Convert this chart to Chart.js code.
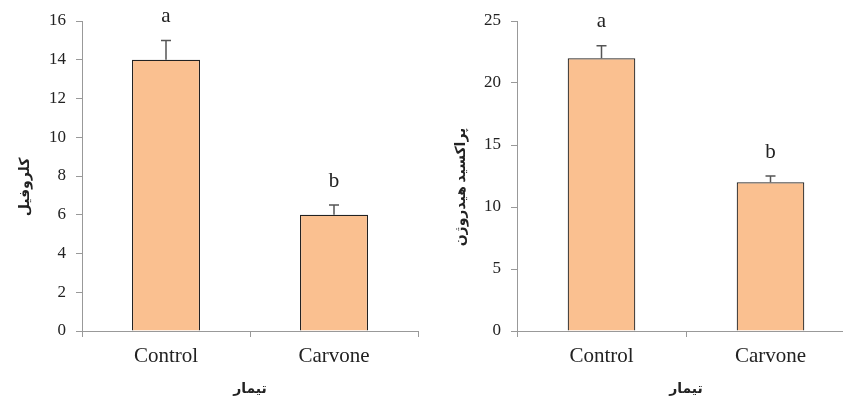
<!DOCTYPE html>
<html>
<head>
<meta charset="utf-8">
<script src="https://cdn.jsdelivr.net/npm/chart.js@4"></script>
<style>
  body { margin: 0; background: #fff; overflow: hidden; }
  .box { position: absolute; top: 0; height: 403px; }
</style>
</head>
<body>
<div class="box" style="left:0;width:421px"><canvas id="chartLeft"></canvas></div>
<div class="box" style="left:421px;width:434px"><canvas id="chartRight"></canvas></div>
<script>
const categories = ['Control', 'Carvone'];
const xTitle = 'تیمار';

// chlorophyll
const chlTitle = 'کلروفیل';
const chlValues = [14, 6];
const chlErrors = [1, 0.5];
const chlLetters = ['a', 'b'];
const chlTicks = { max: 16, step: 2 };

// hydrogen peroxide
const h2o2Title = 'پراکسید هیدروژن';
const h2o2Values = [22, 12];
const h2o2Errors = [1, 0.5];
const h2o2Letters = ['a', 'b'];
const h2o2Ticks = { max: 25, step: 5 };

const serif = '"Liberation Serif", "DejaVu Sans", serif';

const errorBarPlugin = {
  id: 'errorBars',
  afterDatasetsDraw(chart, args, opts) {
    const { ctx, scales: { y }, chartArea } = chart;
    const meta = chart.getDatasetMeta(0);
    ctx.save();
    meta.data.forEach((bar, i) => {
      const top = y.getPixelForValue(opts.values[i] + opts.errors[i]);
      const base = y.getPixelForValue(opts.values[i]);
      ctx.strokeStyle = '#555';
      ctx.lineWidth = 1.5;
      ctx.beginPath();
      ctx.moveTo(bar.x, base);
      ctx.lineTo(bar.x, top);
      ctx.moveTo(bar.x - 5, top);
      ctx.lineTo(bar.x + 5, top);
      ctx.stroke();
      ctx.fillStyle = '#222';
      ctx.font = '21px ' + serif;
      ctx.textAlign = 'center';
      ctx.textBaseline = 'middle';
      ctx.fillText(opts.letters[i], bar.x, top - 24);
    });
    // y title, sits a little below the middle of the axis
    ctx.translate(opts.titleX, (chartArea.top + chartArea.bottom) / 2 + 11);
    ctx.rotate(-Math.PI / 2);
    ctx.font = 'bold 14px ' + serif;
    ctx.fillStyle = '#222';
    ctx.textAlign = 'center';
    ctx.textBaseline = 'middle';
    ctx.fillText(opts.title, 0, 0);
    ctx.restore();
  }
};

function makeChart(id, values, errors, letters, ticks, yTitle, yWidth, titleX, barPct) {
  return new Chart(document.getElementById(id), {
    type: 'bar',
    data: {
      labels: categories,
      datasets: [{
        data: values,
        backgroundColor: '#FAC090',
        borderColor: '#222',
        borderWidth: 1.2,
        categoryPercentage: 1,
        barPercentage: barPct
      }]
    },
    plugins: [errorBarPlugin],
    options: {
      responsive: true,
      maintainAspectRatio: false,
      animation: false,
      layout: { padding: { top: 21, right: id === 'chartLeft' ? 3 : 0, bottom: 0, left: 0 } },
      plugins: {
        legend: { display: false },
        tooltip: { enabled: false },
        errorBars: { values: values, errors: errors, letters: letters, title: yTitle, titleX: titleX }
      },
      scales: {
        x: {
          grid: { offset: true, drawOnChartArea: false, tickLength: 6, color: '#999' },
          border: { color: '#999' },
          ticks: { color: '#222', font: { family: serif, size: 21 }, padding: 7 },
          title: { display: true, text: xTitle, color: '#222', font: { family: serif, size: 14, weight: 'bold' }, padding: { top: 6, bottom: 5 } },
          afterFit(scale) { scale.height = 72; }
        },
        y: {
          min: 0,
          max: ticks.max,
          grid: { drawOnChartArea: false, tickLength: 6, color: '#999' },
          border: { color: '#999' },
          ticks: { stepSize: ticks.step, color: '#222', font: { family: serif, size: 17 }, padding: 10 },
          afterFit(scale) { scale.width = yWidth; }
        }
      }
    }
  });
}

makeChart('chartLeft', chlValues, chlErrors, chlLetters, chlTicks, chlTitle, 82, 25, 0.405);
makeChart('chartRight', h2o2Values, h2o2Errors, h2o2Letters, h2o2Ticks, h2o2Title, 96, 40, 0.40);
</script>
</body>
</html>
